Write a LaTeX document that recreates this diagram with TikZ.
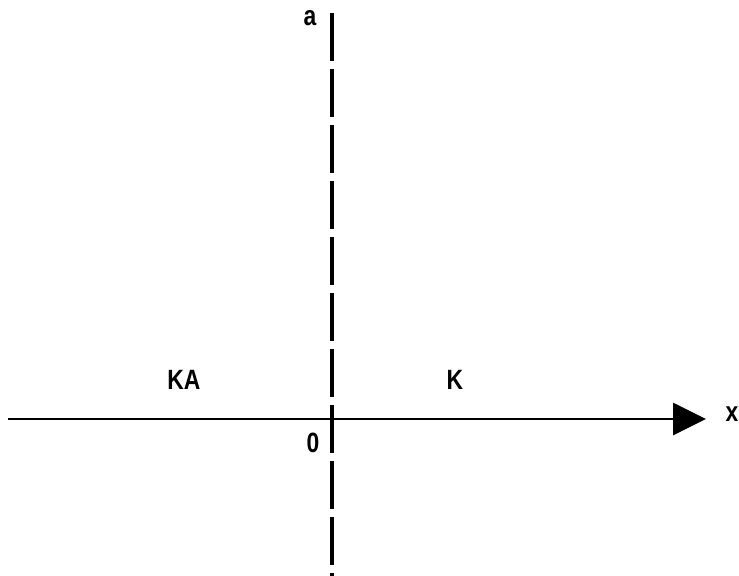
\documentclass[tikz,border=0pt]{standalone}
\usepackage{fontspec}
\setmainfont{Liberation Sans}
\usetikzlibrary{arrows.meta}

\newcommand{\narrow}[1]{\scalebox{0.82}[1]{#1}}

\begin{document}
\begin{tikzpicture}[x=1bp, y=-1bp]
  \tikzset{
    lbl/.style={font=\fontsize{28}{32}\selectfont\bfseries, inner sep=0pt},
    axis/.style={line width=2.8bp, -{Triangle[length=33bp, width=32bp]}},
    cut/.style={line width=3.8bp, dash pattern=on 48bp off 8bp}
  }
  \useasboundingbox (0,0) rectangle (739,576);
  % axes
  \coordinate (xl) at (8,419);
  \coordinate (xr) at (706,419);
  \coordinate (at) at (332,13);
  \coordinate (ab) at (332,576);
  \draw[axis] (xl) -- (xr);
  \draw[cut] (at) -- (ab);
  % labels
  \node[lbl] (la) at (310,18) {\narrow{a}};
  \node[lbl] (lx) at (732,414) {\narrow{x}};
  \node[lbl] (lo) at (313,443) {\narrow{0}};
  \node[lbl] (lka) at (184,380) {\narrow{KA}};
  \node[lbl] (lk) at (455,380) {\narrow{K}};
\end{tikzpicture}
\end{document}
